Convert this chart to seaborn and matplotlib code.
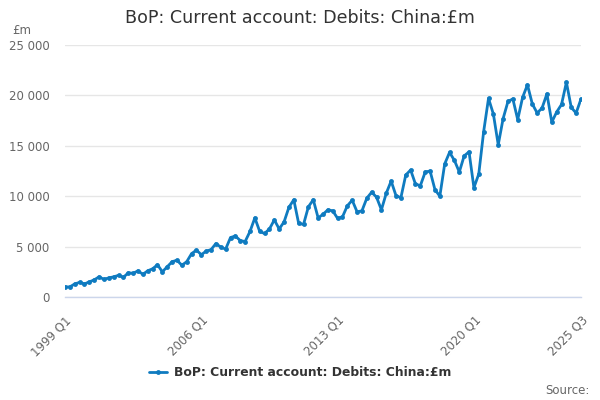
import matplotlib
matplotlib.use("Agg")
import matplotlib.pyplot as plt
import seaborn as sns
import pandas as pd
from matplotlib.ticker import FuncFormatter, FixedLocator

# ---- data (quarterly, 1999 Q1 .. 2025 Q3), £m ----
start_year = 1999
values = [
    1000, 1000, 1300, 1450, 1300, 1500, 1700, 2000, 1750, 1900,
    2000, 2150, 1950, 2400, 2350, 2600, 2250, 2600, 2800, 3200,
    2500, 3000, 3500, 3650, 3150, 3500, 4300, 4650, 4200, 4550,
    4700, 5300, 4950, 4750, 5900, 6050, 5600, 5500, 6500, 7850,
    6500, 6300, 6750, 7650, 6750, 7450, 8900, 9650, 7300, 7200,
    8950, 9650, 7850, 8200, 8650, 8550, 7800, 7950, 9050, 9600,
    8450, 8550, 9800, 10400, 9900, 8650, 10300, 11500, 10050, 9850,
    12100, 12600, 11200, 11050, 12400, 12500, 10650, 10000, 13200, 14350,
    13550, 12400, 14000, 14400, 10850, 12200, 16400, 19700, 18150, 15100,
    17700, 19400, 19650, 17600, 19800, 21050, 19150, 18250, 18750, 20150,
    17350, 18350, 19100, 21300, 18800, 18250, 19650,
]
periods = [f"{start_year + i // 4} Q{i % 4 + 1}" for i in range(len(values))]
labelled_periods = ["1999 Q1", "2006 Q1", "2013 Q1", "2020 Q1", "2025 Q3"]
y_ticks = [0, 5000, 10000, 15000, 20000, 25000]
series_name = "BoP: Current account: Debits: China:£m"
title = "BoP: Current account: Debits: China:£m"

df = pd.DataFrame({"pos": range(len(values)), "period": periods, "value": values})

sns.set_theme(style="white")
plt.rcParams["font.family"] = ["DejaVu Sans"]

LINE = "#0f7bc0"
GRID = "#e6e6e6"
AXIS = "#ccd6eb"
TXT = "#666666"

fig = plt.figure(figsize=(6, 4), dpi=100)
ax = fig.add_axes([65 / 600, 1 - 297 / 400, (581 - 65) / 600, (297 - 45) / 400])

sns.lineplot(data=df, x="pos", y="value", ax=ax, color=LINE, linewidth=2,
             marker="o", markersize=3.5, markeredgewidth=0, label=series_name,
             legend=False)

ax.set_xlim(0, len(values) - 1)
ax.set_ylim(0, 25000)
ax.set_xlabel("")
ax.set_ylabel("")

# y axis
ax.set_yticks(y_ticks)
ax.yaxis.set_major_formatter(FuncFormatter(lambda v, p: f"{int(v):,}".replace(",", " ")))
ax.tick_params(axis="y", length=0, labelsize=8.5, labelcolor=TXT, pad=11)
ax.grid(axis="y", color=GRID, linewidth=1)
ax.set_axisbelow(True)

# x axis
last = len(values) - 1
tick_pos = list(range(0, last, 7)) + [last]
ax.xaxis.set_major_locator(FixedLocator(tick_pos))
ax.set_xticklabels([periods[p] if periods[p] in labelled_periods else "" for p in tick_pos])
ax.tick_params(axis="x", length=10, width=1, color=AXIS, labelsize=8.5, labelcolor=TXT,
               pad=2, direction="out")
for lab in ax.get_xticklabels():
    lab.set_rotation(45)
    lab.set_ha("right")
    lab.set_va("top")
    lab.set_rotation_mode("anchor")

for s in ["top", "right", "left"]:
    ax.spines[s].set_visible(False)
ax.spines["bottom"].set_color(AXIS)
ax.spines["bottom"].set_linewidth(1)

fig.text(0.5, 1 - 18 / 400, title, ha="center", va="center", fontsize=12.6, color="#333333")
fig.text(12 / 600, 1 - 31 / 400, "£m", ha="left", va="center", fontsize=8.5, color=TXT)
fig.text(590 / 600, 1 - 390 / 400, "Source:", ha="right", va="center", fontsize=8.5, color=TXT)

handles, labels = ax.get_legend_handles_labels()
fig.legend(handles, labels, loc="center", bbox_to_anchor=(0.5, 1 - 373 / 400),
           frameon=False, prop={"weight": "bold", "size": 8.9}, labelcolor="#333333",
           handlelength=1.5, handletextpad=0.5)

fig.savefig("out.png", dpi=100)
